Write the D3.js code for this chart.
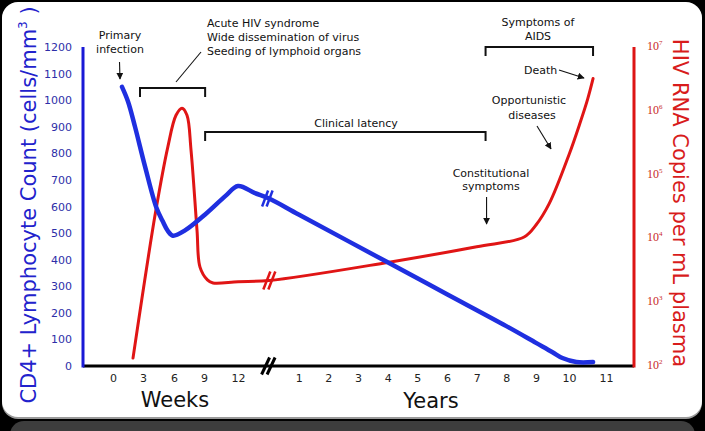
<!DOCTYPE html>
<html><head><meta charset="utf-8">
<script src="https://cdn.jsdelivr.net/npm/d3@7"></script>
<style>html,body{margin:0;padding:0;background:#000;} svg{display:block;}</style>
</head><body>
<script>
// ---- data ----
const cd4Ticks = [0,100,200,300,400,500,600,700,800,900,1000,1100,1200];
const rnaTickExps = [2,3,4,5,6,7];
const weekTicks = [0,3,6,9,12];
const yearTicks = [1,2,3,4,5,6,7,8,9,10,11];
// CD4 count (cells/mm3): [week, value] then [year, value]
const cd4Weeks = [[0.9,1050],[1.5,995],[2.2,900],[3.2,750],[4.3,595],[4.9,545],[5.4,508],[5.9,490],[7.1,510],[9.1,570],[10.9,640],[12,677],[13.5,650]];
const cd4Years = [[0,630],[1,570],[4,390],[6,270],[8,150],[9,87],[9.5,52],[9.8,30],[10.2,15],[10.65,15]];
// HIV RNA copies per mL: [week, copies] then [year, copies]
const rnaWeeks = [[2,133],[2.9,1160],[4.2,25000],[5.4,270000],[6.2,850000],[6.8,1100000],[7.3,850000],[7.7,245000],[8.3,13500],[8.6,3550],[9.3,2240],[9.8,2000],[12,2100]];
const rnaYears = [[0,2190],[4,4200],[7,7400],[8.6,10500],[9,16200],[9.4,35000],[10,205000],[10.3,650000],[10.5,1500000],[10.65,3200000]];

const W = 705, H = 431;
const svg = d3.select("body").append("svg").attr("width", W).attr("height", H);

// frame
svg.append("rect").attr("width", W).attr("height", H).attr("fill", "#000");
svg.append("rect").attr("x", 10).attr("y", 421).attr("width", 685).attr("height", 40).attr("rx", 14).attr("fill", "#3d3d3d");
svg.append("rect").attr("x", 2).attr("y", 3).attr("width", 700).attr("height", 416).attr("rx", 16).attr("fill", "#9a9a9a");
svg.append("rect").attr("x", 2).attr("y", 2).attr("width", 700).attr("height", 415).attr("rx", 16).attr("fill", "#fff");

// scales
const xW = d3.scaleLinear().domain([0,3,6,9,12]).range([113,143,174,204,238]);
const xY = d3.scaleLinear().domain([0,9,10,11]).range([269,536,569,606]);
const yC = d3.scaleLinear().domain([0,1200]).range([366,47]);
const yR = d3.scaleLog().domain([100,1e7]).range([366,47]);
const x0 = 83, x1 = 634;
const xBreak = (xW(12) + xY(1)) / 2;

const FONT = "DejaVu Sans, Verdana, sans-serif";

// axes lines
svg.append("line").attr("x1", x0).attr("x2", x1).attr("y1", yC(0)).attr("y2", yC(0)).attr("stroke", "#000").attr("stroke-width", 3);
svg.append("line").attr("x1", x0).attr("x2", x0).attr("y1", yC(1200)).attr("y2", yC(0)+1.5).attr("stroke", "#1a1ad6").attr("stroke-width", 3);
svg.append("line").attr("x1", x1).attr("x2", x1).attr("y1", yR(1e7)).attr("y2", yR(100)+1.5).attr("stroke", "#dd1515").attr("stroke-width", 3);

// left axis
const gl = svg.append("g").attr("transform", `translate(${x0},0)`)
  .call(d3.axisLeft(yC).tickValues(cd4Ticks).tickFormat(d3.format("d")).tickSize(0).tickPadding(11));
gl.select(".domain").remove();
gl.selectAll("text").attr("font-family", FONT).attr("font-size", 11).attr("fill", "#2e2ea8");

// right axis
const gr = svg.append("g").attr("transform", `translate(${x1},0)`)
  .call(d3.axisRight(yR).tickValues(rnaTickExps.map(e => Math.pow(10, e))).tickSize(0).tickPadding(13).tickFormat(""));
gr.select(".domain").remove();
gr.selectAll("text").each(function(d) {
  const t = d3.select(this).text("").attr("font-family", "Liberation Serif, serif").attr("font-size", 12)
    .attr("fill", "#c82828").attr("dy", "0.2em");
  t.append("tspan").text("10");
  t.append("tspan").text(Math.round(Math.log10(d))).attr("font-size", 7).attr("dy", -5);
});

// bottom axes
[[xW, weekTicks],[xY, yearTicks]].forEach(([sc, tv]) => {
  const g = svg.append("g").attr("transform", `translate(0,${yC(0)})`)
    .call(d3.axisBottom(sc).tickValues(tv).tickSize(0).tickPadding(8));
  g.select(".domain").remove();
  g.selectAll("text").attr("font-family", FONT).attr("font-size", 11).attr("fill", "#222");
});

svg.append("text").attr("x", 175).attr("y", 407).attr("text-anchor", "middle").attr("font-family", FONT)
  .attr("font-size", 21).attr("fill", "#111").text("Weeks");
svg.append("text").attr("x", 431).attr("y", 408).attr("text-anchor", "middle").attr("font-family", FONT)
  .attr("font-size", 21).attr("fill", "#111").text("Years");

// axis titles
const lt = svg.append("text").attr("transform", "translate(36,205) rotate(-90)").attr("text-anchor", "middle")
  .attr("font-family", FONT).attr("font-size", 21).attr("fill", "#2222cc");
lt.append("tspan").text("CD4+ Lymphocyte Count (cells/mm");
lt.append("tspan").text("3").attr("font-size", 12).attr("dy", -9);
lt.append("tspan").text(" )").attr("dy", 9);

svg.append("text").attr("transform", "translate(673,203) rotate(90)").attr("text-anchor", "middle")
  .attr("font-family", FONT).attr("font-size", 21).attr("fill", "#d81c1c").text("HIV RNA Copies per mL plasma");

// curves
const ptsC = cd4Weeks.map(d => [xW(d[0]), yC(d[1])]).concat(cd4Years.map(d => [xY(d[0]), yC(d[1])]));
const ptsR = rnaWeeks.map(d => [xW(d[0]), yR(d[1])]).concat(rnaYears.map(d => [xY(d[0]), yR(d[1])]));
const line = d3.line().curve(d3.curveCatmullRom.alpha(0.5));
svg.append("path").attr("d", line(ptsR)).attr("fill", "none").attr("stroke", "#e01515").attr("stroke-width", 3).attr("stroke-linecap", "round");
svg.append("path").attr("d", line(ptsC)).attr("fill", "none").attr("stroke", "#1f2fe0").attr("stroke-width", 4.5).attr("stroke-linecap", "round");

// break marks
function brk(cx, cy, color, dx, dy, gap, sw) {
  [-gap/2, gap/2].forEach(o => {
    svg.append("line").attr("x1", cx + o - dx/2).attr("y1", cy + dy/2).attr("x2", cx + o + dx/2).attr("y2", cy - dy/2)
      .attr("stroke", color).attr("stroke-width", sw);
  });
}
brk(xBreak - 1, yC(cd4Years[0][1]), "#1f2fe0", 6, 16, 4.5, 2.5);
brk(xBreak + 1, yR(rnaYears[0][1]), "#e01515", 7, 18, 5, 2.5);
brk(xBreak, yC(0), "#000", 8, 17, 5.5, 3);

// annotations
const defs = svg.append("defs");
defs.append("marker").attr("id", "ah").attr("viewBox", "0 0 10 10").attr("refX", 9).attr("refY", 5)
  .attr("markerWidth", 7).attr("markerHeight", 7).attr("markerUnits", "userSpaceOnUse").attr("orient", "auto")
  .append("path").attr("d", "M0,0 L10,5 L0,10 z").attr("fill", "#111");

function txt(x, y, s, anchor) {
  svg.append("text").attr("x", x).attr("y", y).attr("text-anchor", anchor || "middle").attr("font-family", FONT)
    .attr("font-size", 11).attr("fill", "#111").text(s);
}
function arrow(xa, ya, xb, yb, head) {
  const l = svg.append("line").attr("x1", xa).attr("y1", ya).attr("x2", xb).attr("y2", yb).attr("stroke", "#111").attr("stroke-width", 1.1);
  if (head !== false) l.attr("marker-end", "url(#ah)");
}
function bracket(xa, xb, y) {
  svg.append("path").attr("d", `M${xa},${y+9}V${y}H${xb}V${y+9}`).attr("fill", "none").attr("stroke", "#111").attr("stroke-width", 2);
}

txt(120, 39, "Primary"); txt(120, 53, "infection");
arrow(119.5, 62, xW(0.7), 79);

bracket(xW(2.7), xW(9.1), 88);
arrow(xW(6.2), 82, 201, 52, false);
txt(207, 27, "Acute HIV syndrome", "start");
txt(207, 41, "Wide dissemination of virus", "start");
txt(207, 55, "Seeding of lymphoid organs", "start");

bracket(xW(9.1), xY(7.3), 132);
txt(356, 126.5, "Clinical latency");

bracket(xY(7.3), xY(10.65), 47);
txt(538, 26, "Symptoms of"); txt(538, 39.5, "AIDS");

txt(524, 74, "Death", "start");
arrow(559, 70, 584, 78);

txt(529, 104, "Opportunistic"); txt(532, 119, "diseases");
arrow(537, 126, 551, 149);

txt(491, 177, "Constitutional"); txt(491, 190, "symptoms");
arrow(xY(7.3) + 1, 197, xY(7.3) + 1, 224);
</script>
</body></html>
